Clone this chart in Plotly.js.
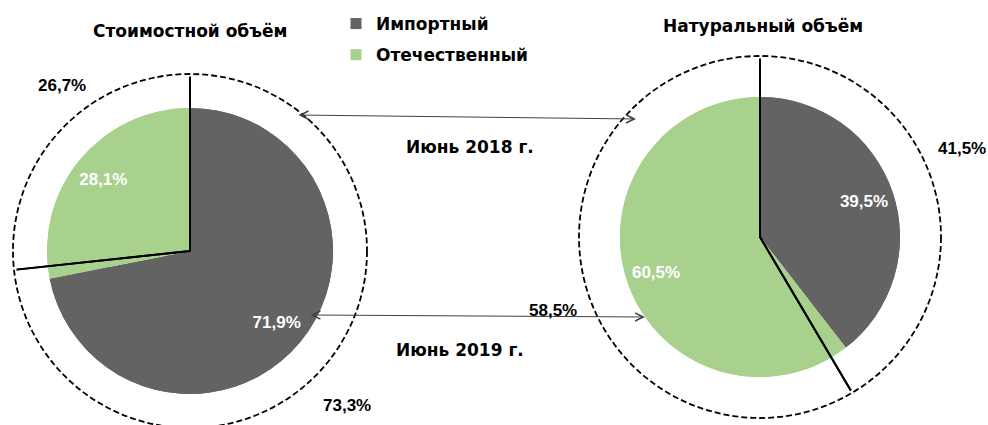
<!DOCTYPE html>
<html>
<head>
<meta charset="utf-8">
<script src="https://cdn.plot.ly/plotly-3.0.1.min.js"></script>
<style>
  html, body { margin: 0; padding: 0; background: #fff; overflow: hidden; }
  #chart { width: 988px; height: 440px; }
</style>
</head>
<body>
<div id="chart"></div>
<script>
// ---- data ----
const categories = ['Импортный', 'Отечественный'];
const valueShare2019 = [71.9, 28.1];
const valueShare2018 = [73.3, 26.7];
const volumeShare2019 = [39.5, 60.5];
const volumeShare2018 = [41.5, 58.5];
const pieTitles = ['Стоимостной объём', 'Натуральный объём'];
const periodLabels = ['Июнь 2018 г.', 'Июнь 2019 г.'];
const colors = ['#636363', '#A9D18E'];

// ---- geometry (pixels) ----
const W = 988, H = 440;
const leftPie = { cx: 190, cy: 251, rOuter: 177, rInner: 143 };
const rightPie = { cx: 760, cy: 237, rOuter: 181, rInner: 140 };

function domainFor(cx, cy, r) {
  return { x: [(cx - r) / W, (cx + r) / W], y: [(H - cy - r) / H, (H - cy + r) / H] };
}
function fmtPct(v) { return v.toFixed(1).replace('.', ',') + '%'; }

const pctFont = { family: 'Liberation Sans, Arial, sans-serif', size: 17, weight: 700 };
const txtFont = { family: 'DejaVu Sans, Verdana, sans-serif', size: 17, weight: 700, color: '#000' };

function innerBase(values, g) {
  return {
    type: 'pie', labels: categories, values: values, sort: false,
    direction: 'clockwise', rotation: 0,
    marker: { colors: colors, line: { width: 0 } },
    textinfo: 'none',
    domain: domainFor(g.cx, g.cy, g.rInner),
    hoverinfo: 'none', showlegend: false
  };
}
function innerRing(values, g) {
  return {
    type: 'pie', labels: categories, values: values, sort: false,
    direction: 'clockwise', rotation: 0, hole: 0.57,
    marker: { colors: colors, line: { width: 0 } },
    textinfo: 'percent', textposition: 'inside', insidetextorientation: 'horizontal',
    texttemplate: '%{percent:.1%}',
    textfont: Object.assign({ color: '#fff' }, pctFont),
    domain: domainFor(g.cx, g.cy, g.rInner),
    hoverinfo: 'none', showlegend: false
  };
}
function outerPie(values, g) {
  return {
    type: 'pie', labels: categories, values: values, sort: false,
    direction: 'clockwise', rotation: 0,
    marker: { colors: ['rgba(0,0,0,0)', 'rgba(0,0,0,0)'], line: { color: '#000', width: 2 } },
    textinfo: 'none',
    domain: domainFor(g.cx, g.cy, g.rOuter),
    hoverinfo: 'none', showlegend: false
  };
}

const legendTraces = categories.map((c, i) => ({
  type: 'scatter', mode: 'markers', x: [null], y: [null], name: c,
  legendgroup: 'g' + i,
  marker: { symbol: 'square', size: 11, color: colors[i] },
  hoverinfo: 'none'
}));

const data = [
  innerBase(valueShare2019, leftPie),
  innerRing(valueShare2019, leftPie),
  innerBase(volumeShare2019, rightPie),
  innerRing(volumeShare2019, rightPie),
  outerPie(valueShare2018, leftPie),
  outerPie(volumeShare2018, rightPie)
].concat(legendTraces);

function circleShapes(g) {
  const x0 = (g.cx - g.rOuter) / W, x1 = (g.cx + g.rOuter) / W;
  const y0 = (H - g.cy - g.rOuter) / H, y1 = (H - g.cy + g.rOuter) / H;
  return [
    { type: 'circle', xref: 'paper', yref: 'paper', x0, x1, y0, y1, layer: 'above',
      line: { color: '#fff', width: 5 } },
    { type: 'circle', xref: 'paper', yref: 'paper', x0, x1, y0, y1, layer: 'above',
      line: { color: '#000', width: 1.8, dash: '6px,3px' } }
  ];
}

function arrow(xHead, yHead, xTail, yTail) {
  return {
    xref: 'paper', yref: 'paper', x: xHead / W, y: 1 - yHead / H,
    ax: xTail - xHead, ay: yTail - yHead, axref: 'pixel', ayref: 'pixel',
    text: '', showarrow: true, arrowside: 'end+start',
    arrowhead: 5, startarrowhead: 5, arrowsize: 1.6, startarrowsize: 1.6,
    arrowwidth: 1, arrowcolor: '#404040', standoff: 0, startstandoff: 0
  };
}
function label(text, x, y, font) {
  return { xref: 'paper', yref: 'paper', x: x / W, y: 1 - y / H, text: text,
    showarrow: false, font: font || txtFont, xanchor: 'center', yanchor: 'middle' };
}
const outerFont = Object.assign({ color: '#000' }, pctFont);

const layout = {
  width: W, height: H,
  margin: { l: 0, r: 0, t: 0, b: 0 },
  paper_bgcolor: '#fff', plot_bgcolor: '#fff',
  separators: ', ',
  xaxis: { visible: false }, yaxis: { visible: false },
  showlegend: true,
  legend: {
    x: 336 / W, y: 1 - 6 / H, xanchor: 'left', yanchor: 'top',
    font: { family: 'DejaVu Sans, Verdana, sans-serif', size: 17, weight: 700, color: '#000' },
    tracegroupgap: 6, bgcolor: 'rgba(0,0,0,0)'
  },
  shapes: circleShapes(leftPie).concat(circleShapes(rightPie)),
  annotations: [
    label(pieTitles[0], 190, 31),
    label(pieTitles[1], 763, 26),
    label(periodLabels[0], 470, 147),
    label(periodLabels[1], 460, 350),
    arrow(636, 119, 297, 115),
    arrow(645, 317, 309, 315),
    label(fmtPct(valueShare2018[1]), 62, 86, outerFont),
    label(fmtPct(valueShare2018[0]), 347, 405, outerFont),
    label(fmtPct(volumeShare2018[0]), 962, 148, outerFont),
    label(fmtPct(volumeShare2018[1]), 553, 310, outerFont)
  ]
};

Plotly.newPlot('chart', data, layout, { staticPlot: true, displayModeBar: false });
</script>
</body>
</html>
